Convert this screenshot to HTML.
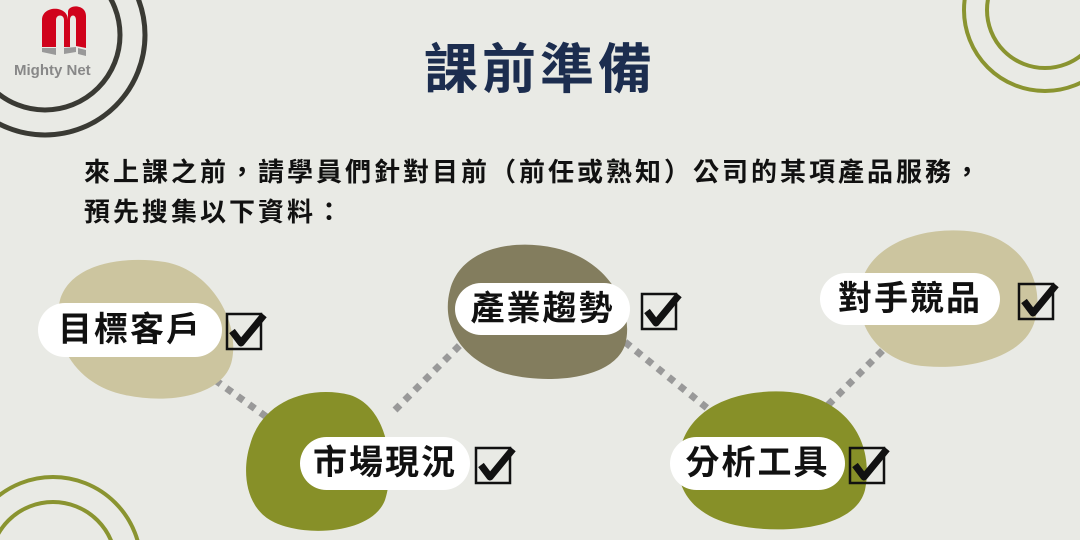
<!DOCTYPE html>
<html style="overflow:hidden;width:1080px;height:540px"><head><meta charset="utf-8"><style>
body{margin:0;width:1080px;height:540px;overflow:hidden;background:#e9eae5;font-family:"Liberation Sans","Noto Sans CJK TC",sans-serif;position:relative}
svg{display:block}
.t{position:absolute;white-space:nowrap}
.pill{position:absolute;background:#fff;border-radius:28px;font-weight:bold;font-size:34px;color:#111;text-align:center;letter-spacing:2px}
</style></head><body>
<svg width="1080" height="540" style="position:absolute;left:0;top:0">
<g fill="none" stroke="#3a3a34" stroke-width="5">
<circle cx="45" cy="35" r="75"/><circle cx="45" cy="35" r="100"/>
</g>
<g fill="none" stroke="#8a9430" stroke-width="4">
<circle cx="1045" cy="10" r="58"/><circle cx="1045" cy="10" r="81"/>
<circle cx="53" cy="565" r="63"/><circle cx="53" cy="565" r="88"/>
</g>
<g stroke="#999" stroke-width="7" stroke-dasharray="7,7">
<line x1="215" y1="380" x2="268" y2="418"/>
<line x1="395" y1="410" x2="462" y2="343"/>
<line x1="625" y1="342" x2="712" y2="412"/>
<line x1="828" y1="405" x2="885" y2="348"/>
</g>
<path d="M60,300 C70,265 120,255 165,262 C210,270 240,320 232,360 C225,395 170,405 125,395 C75,385 50,340 60,300Z" fill="#ccc59f"/>
<path d="M250,445 C262,400 310,385 350,395 C390,408 395,470 385,500 C372,535 300,538 270,520 C245,505 242,470 250,445Z" fill="#879028"/>
<path d="M450,290 C460,250 510,238 555,248 C610,260 635,310 625,345 C612,382 540,385 500,372 C455,355 442,320 450,290Z" fill="#837d5e"/>
<path d="M680,450 C690,405 740,388 790,392 C845,398 875,440 865,490 C855,530 780,535 735,525 C690,515 672,485 680,450Z" fill="#879028"/>
<path d="M862,280 C875,240 930,225 975,232 C1025,240 1045,285 1035,320 C1025,360 960,372 915,365 C870,355 852,315 862,280Z" fill="#ccc59f"/>
<path d="M42,20 C42,5 68,5 68,20 L68,12 C68,4 86,4 86,16 L86,48 L76,46 L76,20 C76,14 70,14 70,20 L70,47 L64,47 L64,20 C64,14 56,14 56,20 L56,47 L42,47Z" fill="#d0021b"/>
<path d="M42,48 L56,48 L56,55 L42,52Z M64,48 L76,47 L76,52 L64,54Z M78,48 L86,50 L86,56 L78,54Z" fill="#999"/>
</svg>
<div class="t" style="left:14px;top:62px;font-size:15px;font-weight:bold;color:#888">Mighty Net</div>
<div class="t" style="left:0;width:1080px;text-align:center;top:30px;font-size:54px;line-height:80px;font-weight:bold;color:#1c2d4f;letter-spacing:4px">課前準備</div>
<div class="t" style="left:84px;top:152px;font-size:26px;font-weight:bold;color:#111;line-height:40px;letter-spacing:3px">來上課之前，請學員們針對目前（前任或熟知）公司的某項產品服務，<br>預先搜集以下資料：</div>
<div class="pill" style="left:38px;top:303px;width:184px;height:54px;line-height:54px">目標客戶</div>
<div class="pill" style="left:300px;top:437px;width:170px;height:53px;line-height:53px">市場現況</div>
<div class="pill" style="left:455px;top:283px;width:175px;height:52px;line-height:52px">產業趨勢</div>
<div class="pill" style="left:670px;top:437px;width:175px;height:53px;line-height:53px">分析工具</div>
<div class="pill" style="left:820px;top:273px;width:180px;height:52px;line-height:52px">對手競品</div>
<svg width="1080" height="540" style="position:absolute;left:0;top:0">
<g fill="none" stroke="#111">
<g transform="translate(226,313)"><rect x="1" y="1" width="34" height="35" stroke-width="2.5"/><path d="M6,18 L15,30 L38,2" stroke-width="7" stroke-linejoin="round"/></g>
<g transform="translate(475,447)"><rect x="1" y="1" width="34" height="35" stroke-width="2.5"/><path d="M6,18 L15,30 L38,2" stroke-width="7" stroke-linejoin="round"/></g>
<g transform="translate(641,293)"><rect x="1" y="1" width="34" height="35" stroke-width="2.5"/><path d="M6,18 L15,30 L38,2" stroke-width="7" stroke-linejoin="round"/></g>
<g transform="translate(849,447)"><rect x="1" y="1" width="34" height="35" stroke-width="2.5"/><path d="M6,18 L15,30 L38,2" stroke-width="7" stroke-linejoin="round"/></g>
<g transform="translate(1018,283)"><rect x="1" y="1" width="34" height="35" stroke-width="2.5"/><path d="M6,18 L15,30 L38,2" stroke-width="7" stroke-linejoin="round"/></g>
</g>
</svg>
</body></html>
